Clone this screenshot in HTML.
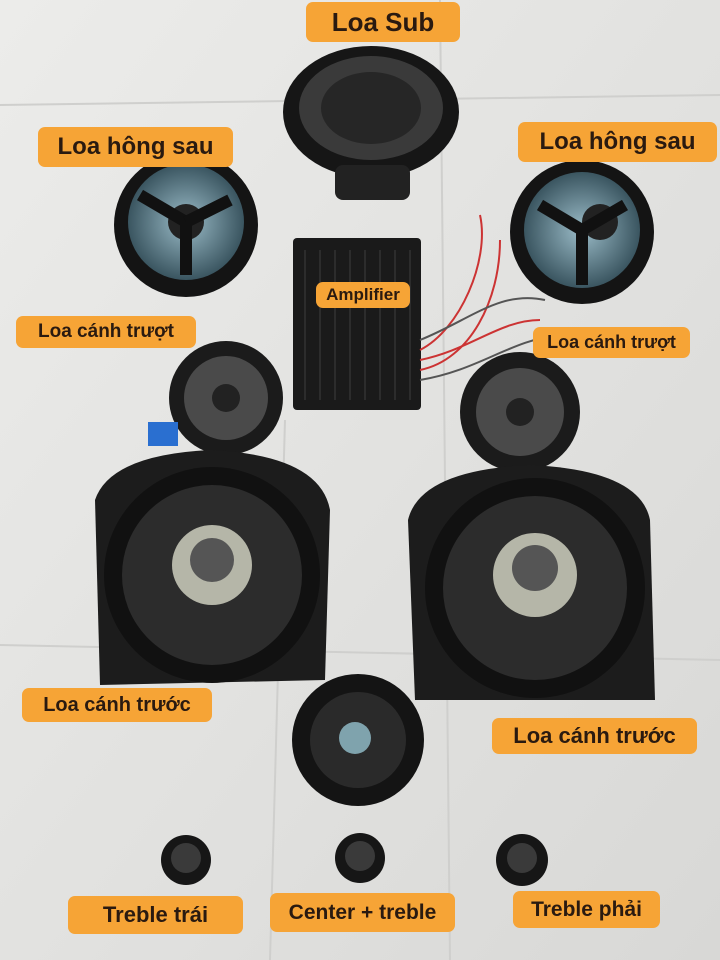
<!DOCTYPE html>
<html><head><meta charset="utf-8"><style>
html,body{margin:0;padding:0;width:720px;height:960px;overflow:hidden;background:#e6e6e4}
svg{position:absolute;left:0;top:0}
.l{position:absolute;background:#f6a436;border-radius:7px;color:#2a1a10;font-family:"Liberation Sans","Noto Sans CJK SC",sans-serif;font-weight:bold;display:flex;align-items:center;justify-content:center;white-space:nowrap}
</style></head><body>
<svg width="720" height="960" viewBox="0 0 720 960">
<defs>
<linearGradient id="bg" x1="0" y1="0" x2="1" y2="1"><stop offset="0" stop-color="#ececea"/><stop offset="0.5" stop-color="#e2e2e0"/><stop offset="1" stop-color="#d8d8d6"/></linearGradient>
<radialGradient id="cone" cx="0.5" cy="0.5" r="0.5"><stop offset="0" stop-color="#3a3a3a"/><stop offset="0.7" stop-color="#2a2a2a"/><stop offset="1" stop-color="#111"/></radialGradient>
<radialGradient id="blue" cx="0.5" cy="0.5" r="0.5"><stop offset="0" stop-color="#9bbcc8"/><stop offset="1" stop-color="#3a5560"/></radialGradient>
</defs>
<rect width="720" height="960" fill="url(#bg)"/>
<g stroke="#cfcfcd" stroke-width="2">
<line x1="0" y1="105" x2="720" y2="95"/><line x1="0" y1="645" x2="720" y2="660"/>
<line x1="440" y1="0" x2="450" y2="960"/><line x1="285" y1="420" x2="270" y2="960"/>
</g>
<!-- sub -->
<ellipse cx="371" cy="112" rx="88" ry="66" fill="#161616"/>
<ellipse cx="371" cy="108" rx="72" ry="52" fill="#3a3a3a"/>
<ellipse cx="371" cy="108" rx="50" ry="36" fill="#262626"/>
<rect x="335" y="165" width="75" height="35" rx="8" fill="#222"/>
<!-- rear left -->
<circle cx="186" cy="225" r="72" fill="#141414"/>
<circle cx="186" cy="222" r="58" fill="url(#blue)"/>
<circle cx="186" cy="222" r="18" fill="#222"/>
<g stroke="#111" stroke-width="12"><line x1="186" y1="222" x2="140" y2="195"/><line x1="186" y1="222" x2="230" y2="200"/><line x1="186" y1="222" x2="186" y2="275"/></g>
<!-- rear right -->
<circle cx="582" cy="232" r="72" fill="#141414"/>
<circle cx="582" cy="230" r="58" fill="url(#blue)"/>
<circle cx="600" cy="222" r="18" fill="#222"/>
<g stroke="#111" stroke-width="12"><line x1="582" y1="230" x2="540" y2="205"/><line x1="582" y1="230" x2="625" y2="205"/><line x1="582" y1="230" x2="582" y2="285"/></g>
<!-- amplifier -->
<rect x="293" y="238" width="128" height="172" rx="4" fill="#1a1a1a"/>
<g stroke="#2c2c2c" stroke-width="2"><line x1="305" y1="250" x2="305" y2="400"/><line x1="320" y1="250" x2="320" y2="400"/><line x1="335" y1="250" x2="335" y2="400"/><line x1="350" y1="250" x2="350" y2="400"/><line x1="365" y1="250" x2="365" y2="400"/><line x1="380" y1="250" x2="380" y2="400"/><line x1="395" y1="250" x2="395" y2="400"/><line x1="410" y1="250" x2="410" y2="400"/></g>
<g stroke="#c33" stroke-width="2" fill="none"><path d="M420 360 C470 350 500 320 540 320"/><path d="M420 370 C470 360 500 300 500 240"/><path d="M420 350 C460 330 490 260 480 215"/></g>
<g stroke="#555" stroke-width="2" fill="none"><path d="M420 340 C470 320 500 290 545 300"/><path d="M420 380 C480 370 510 340 560 335"/></g>
<!-- slide tweeters -->
<circle cx="226" cy="398" r="57" fill="#1b1b1b"/><circle cx="226" cy="398" r="42" fill="#4a4a4a"/><circle cx="226" cy="398" r="14" fill="#222"/>
<circle cx="520" cy="412" r="60" fill="#1b1b1b"/><circle cx="520" cy="412" r="44" fill="#4a4a4a"/><circle cx="520" cy="412" r="14" fill="#222"/>
<rect x="148" y="422" width="30" height="24" fill="#2a6fd0"/>
<!-- front left -->
<path d="M95 500 Q110 455 210 450 Q320 455 330 510 L325 680 L100 685 Z" fill="#1c1c1c"/>
<circle cx="212" cy="575" r="108" fill="#111"/>
<circle cx="212" cy="575" r="90" fill="#2c2c2c"/>
<circle cx="212" cy="565" r="40" fill="#b5b6a8"/><circle cx="212" cy="560" r="22" fill="#555"/>
<!-- front right -->
<path d="M408 520 Q420 470 530 465 Q640 470 650 520 L655 700 L415 700 Z" fill="#1c1c1c"/>
<circle cx="535" cy="588" r="110" fill="#111"/>
<circle cx="535" cy="588" r="92" fill="#2c2c2c"/>
<circle cx="535" cy="575" r="42" fill="#b5b6a8"/><circle cx="535" cy="568" r="23" fill="#555"/>
<!-- center -->
<circle cx="358" cy="740" r="66" fill="#141414"/><circle cx="358" cy="740" r="48" fill="#2a2a2a"/><circle cx="355" cy="738" r="16" fill="#7fa3ad"/>
<!-- trebles -->
<circle cx="186" cy="860" r="25" fill="#161616"/><circle cx="186" cy="858" r="15" fill="#3a3a3a"/>
<circle cx="360" cy="858" r="25" fill="#161616"/><circle cx="360" cy="856" r="15" fill="#3a3a3a"/>
<circle cx="522" cy="860" r="26" fill="#161616"/><circle cx="522" cy="858" r="15" fill="#3a3a3a"/>
</svg>
<div class="l" style="left:306px;top:2px;width:154px;height:40px;font-size:26px">Loa Sub</div>
<div class="l" style="left:38px;top:127px;width:195px;height:40px;font-size:24px">Loa hông sau</div>
<div class="l" style="left:518px;top:122px;width:199px;height:40px;font-size:24px">Loa hông sau</div>
<div class="l" style="left:316px;top:282px;width:94px;height:26px;font-size:17px">Amplifier</div>
<div class="l" style="left:16px;top:316px;width:180px;height:32px;font-size:19px">Loa cánh trượt</div>
<div class="l" style="left:533px;top:327px;width:157px;height:31px;font-size:18px">Loa cánh trượt</div>
<div class="l" style="left:22px;top:688px;width:190px;height:34px;font-size:20px">Loa cánh trước</div>
<div class="l" style="left:492px;top:718px;width:205px;height:36px;font-size:22px">Loa cánh trước</div>
<div class="l" style="left:68px;top:896px;width:175px;height:38px;font-size:22px">Treble trái</div>
<div class="l" style="left:270px;top:893px;width:185px;height:39px;font-size:21px">Center + treble</div>
<div class="l" style="left:513px;top:891px;width:147px;height:37px;font-size:21px">Treble phải</div>
</body></html>
